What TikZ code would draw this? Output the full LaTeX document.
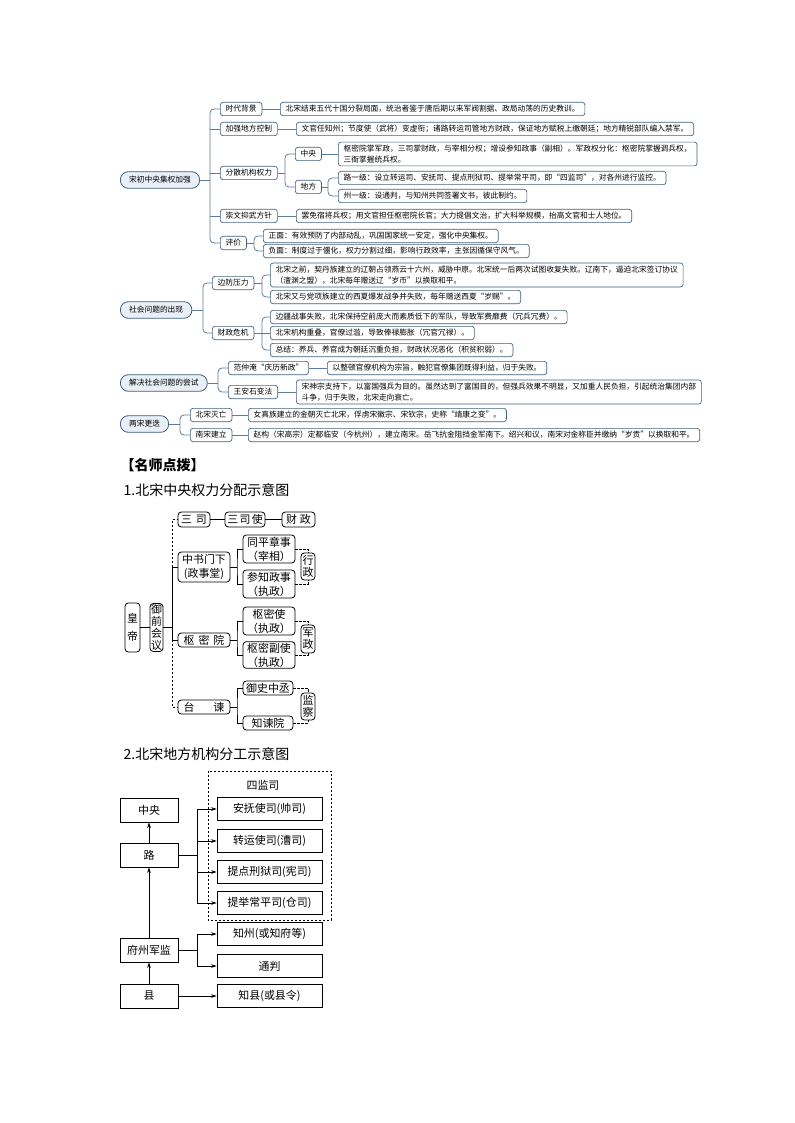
\documentclass[tikz,border=0pt]{standalone}
\usepackage{fontspec}
\setmainfont{Noto Sans CJK SC}
\usepackage{tikz}
\usetikzlibrary{arrows.meta}

\definecolor{mapline}{HTML}{5B7C9B}
\definecolor{mapdraw}{HTML}{41607E}
\definecolor{mapfill}{HTML}{E8EFF7}

\newcommand\mapfont{\fontsize{5.8pt}{8.4pt}\selectfont}
\newcommand\chartfont{\fontsize{8.2pt}{10.4pt}\selectfont}
\newcommand\vertfont{\fontsize{8.2pt}{8.9pt}\selectfont}
\newcommand\titlefont{\fontsize{10.5pt}{12pt}\selectfont}

\begin{document}
\begin{tikzpicture}[
    x=0.75pt, y=-0.75pt,
    rootbox/.style={draw=mapdraw, fill=mapfill, line width=0.6pt, rounded corners=6pt, font=\mapfont, inner xsep=6.5pt, minimum height=12.5pt, anchor=west},
    subbox/.style={draw=mapdraw, fill=white, line width=0.5pt, rounded corners=2pt, font=\mapfont, inner xsep=4pt, inner ysep=2pt, minimum height=10pt, anchor=west},
    txtbox/.style={subbox, align=left},
    maplink/.style={draw=mapline, line width=0.6pt, rounded corners=3pt},
    cbox/.style={draw, line width=0.6pt, rounded corners=2.5pt, font=\chartfont, inner sep=0pt, align=center},
    vbox/.style={cbox, font=\vertfont, minimum width=10.5pt},
    clink/.style={draw, line width=0.6pt},
    dlink/.style={draw, line width=0.5pt, dash pattern=on 1.8pt off 1.2pt},
    lbox/.style={draw, line width=0.6pt, minimum width=43.5pt, minimum height=18pt, font=\chartfont},
    rbox/.style={draw, line width=0.6pt, minimum width=78.75pt, minimum height=17pt, font=\chartfont},
    arr/.style={-{Stealth[length=4pt,width=2.6pt]}, line width=0.6pt}
]
\fill[white] (0,0) rectangle (794,1123);

% ---- mind map: 宋初中央集权加强
\node[rootbox] (r1) at (120,180) {宋初中央集权加强};
\node[subbox] (beijing) at (220,109) {时代背景};
\node[subbox] (jiaqiang) at (220,129) {加强地方控制};
\node[subbox] (fensan) at (220,173) {分散机构权力};
\node[subbox] (chongwen) at (220,216) {崇文抑武方针};
\node[subbox] (pingjia) at (220,243) {评价};
\node[txtbox] (beijingT) at (280,109) {北宋结束五代十国分裂局面，统治者鉴于唐后期以来军阀割据、政局动荡的历史教训。};
\node[txtbox] (jiaqiangT) at (296,129) {文官任知州；节度使（武将）变虚衔；诸路转运司管地方财政，保证地方赋税上缴朝廷；地方精锐部队编入禁军。};
\node[subbox] (zhongyangM) at (295,154) {中央};
\node[subbox] (difangM) at (295,187) {地方};
\node[txtbox] (zhongyangT) at (338,154) {枢密院掌军政，三司掌财政，与宰相分权；增设参知政事（副相）。军政权分化：枢密院掌握调兵权，\\三衙掌握统兵权。};
\node[txtbox] (luyiji) at (338,178) {路一级：设立转运司、安抚司、提点刑狱司、提举常平司，即“四监司”，对各州进行监控。};
\node[txtbox] (zhouyiji) at (338,196) {州一级：设通判，与知州共同签署文书，彼此制约。};
\node[txtbox] (chongwenT) at (296,216) {罢免宿将兵权；用文官担任枢密院长官；大力提倡文治，扩大科举规模，抬高文官和士人地位。};
\node[txtbox] (zhengmian) at (263,236) {正面：有效预防了内部动乱，巩固国家统一安定，强化中央集权。};
\node[txtbox] (fumian) at (263,251) {负面：制度过于僵化，权力分割过细，影响行政效率，主张因循保守风气。};

\coordinate (k1) at (210,180);
\draw[maplink] (r1.east) -- (k1);
\draw[maplink] (beijing.west) -| (k1) |- (pingjia.west);
\draw[maplink] (k1 |- jiaqiang.west) -- (jiaqiang.west);
\draw[maplink] (k1 |- fensan.west) -- (fensan.west);
\draw[maplink] (k1 |- chongwen.west) -- (chongwen.west);
\draw[maplink] (beijing.east) -- (beijingT.west);
\draw[maplink] (jiaqiang.east) -- (jiaqiangT.west);
\coordinate (k2) at (285,173);
\draw[maplink] (fensan.east) -- (k2);
\draw[maplink] (zhongyangM.west) -| (k2) |- (difangM.west);
\draw[maplink] (zhongyangM.east) -- (zhongyangT.west);
\coordinate (k3) at (328,187);
\draw[maplink] (difangM.east) -- (k3);
\draw[maplink] (luyiji.west) -| (k3) |- (zhouyiji.west);
\draw[maplink] (chongwen.east) -- (chongwenT.west);
\coordinate (k4) at (254,243);
\draw[maplink] (pingjia.east) -- (k4);
\draw[maplink] (zhengmian.west) -| (k4) |- (fumian.west);

% ---- mind map: 社会问题的出现
\node[rootbox] (r2) at (120,310) {社会问题的出现};
\node[subbox] (bianfang) at (212,283) {边防压力};
\node[subbox] (caizhengM) at (212,333) {财政危机};
\node[txtbox] (bianfangA) at (270,275) {北宋之前，契丹族建立的辽朝占领燕云十六州，威胁中原。北宋统一后两次试图收复失败。辽南下，逼迫北宋签订协议\\（澶渊之盟），北宋每年赠送辽“岁币”以换取和平。};
\node[txtbox] (bianfangB) at (270,297) {北宋又与党项族建立的西夏爆发战争并失败，每年赠送西夏“岁赐”。};
\node[txtbox] (caizhengA) at (270,317) {边疆战事失败，北宋保持空前庞大而素质低下的军队，导致军费靡费（冗兵冗费）。};
\node[txtbox] (caizhengB) at (270,333) {北宋机构重叠，官僚过滥，导致俸禄膨胀（冗官冗禄）。};
\node[txtbox] (caizhengC) at (270,350) {总结：养兵、养官成为朝廷沉重负担，财政状况恶化（积贫积弱）。};

\coordinate (k5) at (203,310);
\draw[maplink] (r2.east) -- (k5);
\draw[maplink] (bianfang.west) -| (k5) |- (caizhengM.west);
\coordinate (k6) at (262,283);
\draw[maplink] (bianfang.east) -- (k6);
\draw[maplink] (bianfangA.west) -| (k6) |- (bianfangB.west);
\coordinate (k7) at (262,333);
\draw[maplink] (caizhengM.east) -- (caizhengB.west);
\draw[maplink] (caizhengA.west) -| (k7) |- (caizhengC.west);

% ---- mind map: 解决社会问题的尝试
\node[rootbox] (r3) at (120,383) {解决社会问题的尝试};
\node[subbox] (fanzhongyan) at (228,368) {范仲淹“庆历新政”};
\node[subbox] (wanganshi) at (228,392) {王安石变法};
\node[txtbox] (fanzhongyanT) at (327,368) {以整顿官僚机构为宗旨，触犯官僚集团既得利益，归于失败。};
\node[txtbox] (wanganshiT) at (296,392) {宋神宗支持下，以富国强兵为目的。虽然达到了富国目的，但强兵效果不明显，又加重人民负担，引起统治集团内部\\斗争，归于失败，北宋走向衰亡。};

\coordinate (k8) at (218,383);
\draw[maplink] (r3.east) -- (k8);
\draw[maplink] (fanzhongyan.west) -| (k8) |- (wanganshi.west);
\draw[maplink] (fanzhongyan.east) -- (fanzhongyanT.west);
\draw[maplink] (wanganshi.east) -- (wanganshiT.west);

% ---- mind map: 两宋更迭
\node[rootbox] (r4) at (120,424) {两宋更迭};
\node[subbox] (miewang) at (190,415) {北宋灭亡};
\node[subbox] (jianli) at (190,435) {南宋建立};
\node[txtbox] (miewangT) at (248,415) {女真族建立的金朝灭亡北宋，俘虏宋徽宗、宋钦宗，史称“靖康之变”。};
\node[txtbox] (jianliT) at (248,435) {赵构（宋高宗）定都临安（今杭州），建立南宋。岳飞抗金阻挡金军南下。绍兴和议，南宋对金称臣并缴纳“岁贡”以换取和平。};

\coordinate (k9) at (180,424);
\draw[maplink] (r4.east) -- (k9);
\draw[maplink] (miewang.west) -| (k9) |- (jianli.west);
\draw[maplink] (miewang.east) -- (miewangT.west);
\draw[maplink] (jianli.east) -- (jianliT.west);

% ---- titles
\node[anchor=west, font=\titlefont\bfseries] (tips) at (116,465) {【名师点拨】};
\node[anchor=west, font=\titlefont] (title1) at (119,490) {1.北宋中央权力分配示意图};
\node[anchor=west, font=\titlefont] (title2) at (119,754) {2.北宋地方机构分工示意图};

% ---- chart 1
\node[vbox, minimum width=11.25pt, minimum height=36.75pt] (huangdi) at (132.5,627.5) {皇\\[5pt]帝};
\node[vbox, minimum width=9.75pt, minimum height=36pt] (yuqian) at (156.5,627.5) {御\\前\\会\\议};
\node[cbox, minimum width=24pt, minimum height=11.25pt] (sansi) at (194,519.5) {三\hspace{3pt}司};
\node[cbox, minimum width=30pt, minimum height=11.25pt] (sansishi) at (245,519.5) {三\hspace{1pt}司\hspace{1pt}使};
\node[cbox, minimum width=24.75pt, minimum height=11.25pt] (caizheng) at (298.5,519.5) {财\hspace{2pt}政};
\node[cbox, minimum width=39pt, minimum height=22.5pt] (zhongshu) at (204,567) {中书门下\\(政事堂)};
\node[cbox, minimum width=39pt, minimum height=10.5pt] (shumi) at (204,640) {枢\hspace{3pt}密\hspace{3pt}院};
\node[cbox, minimum width=39pt, minimum height=10.5pt] (taijian) at (204,707) {台\hspace{14pt}谏};
\node[cbox, minimum width=39pt, minimum height=21pt] (tongping) at (269,549) {同平章事\\（宰相）};
\node[cbox, minimum width=39pt, minimum height=21pt] (canzhi) at (269,584) {参知政事\\（执政）};
\node[cbox, minimum width=39pt, minimum height=21pt] (shumishi) at (269,621) {枢密使\\（执政）};
\node[cbox, minimum width=39pt, minimum height=20pt] (shumifu) at (269,655) {枢密副使\\（执政）};
\node[cbox, minimum width=37.5pt, minimum height=10.5pt] (yushi) at (268,688) {御史中丞};
\node[cbox, minimum width=37.5pt, minimum height=10.5pt] (zhijian) at (268,723) {知谏院};
\node[vbox, minimum height=20.25pt] (xingzheng) at (308,566.5) {行\\政};
\node[vbox, minimum height=21pt] (junzheng) at (308,639) {军\\政};
\node[vbox, minimum height=20.25pt] (jiancha) at (308,706.5) {监\\察};

\coordinate (hub) at (172,627.5);
\draw[clink] (huangdi.east) -- (yuqian.west);
\draw[clink] (yuqian.east) -- (hub);
\draw[clink] (zhongshu.west -| hub) -- (shumi.west -| hub);
\draw[clink] (zhongshu.west -| hub) -- (zhongshu.west);
\draw[clink] (shumi.west -| hub) -- (shumi.west);
\draw[dlink] (zhongshu.west -| hub) |- (sansi.west);
\draw[dlink] (shumi.west -| hub) |- (taijian.west);
\draw[clink] (sansi) -- (sansishi);
\draw[clink] (sansishi) -- (caizheng);
\coordinate (b1) at (237,567);
\draw[clink] (zhongshu.east) -- (b1);
\draw[clink] (tongping.west) -| (b1) |- (canzhi.west);
\coordinate (b2) at (237,640);
\draw[clink] (shumi.east) -- (b2);
\draw[clink] (shumishi.west) -| (b2) |- (shumifu.west);
\coordinate (b3) at (237,707);
\draw[clink] (taijian.east) -- (b3);
\draw[clink] (yushi.west) -| (b3) |- (zhijian.west);
\draw[dlink] (tongping.east) -| (xingzheng.north);
\draw[dlink] (canzhi.east) -| (xingzheng.south);
\draw[dlink] (shumishi.east) -| (junzheng.north);
\draw[dlink] (shumifu.east) -| (junzheng.south);
\draw[dlink] (yushi.east) -| (jiancha.north);
\draw[dlink] (zhijian.east) -| (jiancha.south);

% ---- chart 2
\draw[dlink, line width=0.6pt] (208,771) rectangle (331,920);
\node[font=\chartfont] (sijiansi) at (263,785) {四监司};
\node[lbox] (zhongyang) at (149,810) {中央};
\node[lbox] (lu) at (149,855) {路};
\node[lbox] (fuzhou) at (149,950) {府州军监};
\node[lbox] (xian) at (149,996) {县};
\node[rbox] (anfu) at (269.5,809) {安抚使司(帅司)};
\node[rbox] (zhuanyun) at (269.5,841) {转运使司(漕司)};
\node[rbox] (tidian) at (269.5,872) {提点刑狱司(宪司)};
\node[rbox] (tiju) at (269.5,903) {提举常平司(仓司)};
\node[rbox] (zhizhou) at (269.5,934) {知州(或知府等)};
\node[rbox] (tongpan) at (269.5,966) {通判};
\node[rbox] (zhixian) at (269.5,996) {知县(或县令)};

\draw[arr] (lu) -- (zhongyang);
\draw[arr] (fuzhou) -- (lu);
\draw[arr] (xian) -- (fuzhou);
\coordinate (c1) at (197,855);
\draw[clink] (lu.east) -- (c1);
\draw[clink] (c1 |- anfu.west) -- (c1 |- tiju.west);
\foreach \n in {anfu,zhuanyun,tidian,tiju}
    \draw[arr] (c1 |- \n.west) -- (\n.west);
\coordinate (c2) at (197,950);
\draw[clink] (fuzhou.east) -- (c2);
\draw[clink] (c2 |- zhizhou.west) -- (c2 |- tongpan.west);
\foreach \n in {zhizhou,tongpan}
    \draw[arr] (c2 |- \n.west) -- (\n.west);
\draw[arr] (xian) -- (zhixian);

\end{tikzpicture}
\end{document}
